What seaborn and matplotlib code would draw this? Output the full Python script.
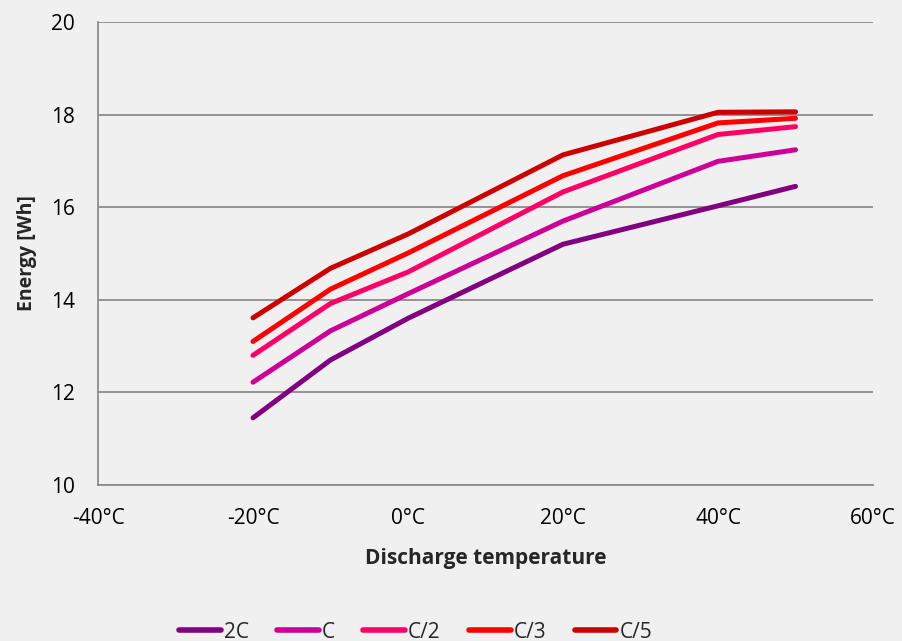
import matplotlib
matplotlib.use("Agg")
import matplotlib.pyplot as plt
import seaborn as sns
import pandas as pd

temps = [-20, -10, 0, 20, 40, 50]
series_names = ["2C", "C", "C/2", "C/3", "C/5"]
e_2C = [11.45, 12.70, 13.60, 15.20, 16.03, 16.45]
e_C = [12.22, 13.33, 14.13, 15.70, 16.99, 17.24]
e_C2 = [12.80, 13.92, 14.60, 16.33, 17.57, 17.74]
e_C3 = [13.10, 14.23, 15.01, 16.68, 17.82, 17.92]
e_C5 = [13.61, 14.68, 15.42, 17.13, 18.05, 18.06]
colors = ["#800080", "#CC0099", "#FF0066", "#FF0000", "#CC0000"]
x_ticks = [-40, -20, 0, 20, 40, 60]
x_labels = ["-40°C", "-20°C", "0°C", "20°C", "40°C", "60°C"]
y_ticks = [10, 12, 14, 16, 18, 20]

rows = []
for name, vals in zip(series_names, [e_2C, e_C, e_C2, e_C3, e_C5]):
    for t, v in zip(temps, vals):
        rows.append({"temp": t, "energy": v, "series": name})
df = pd.DataFrame(rows)

sns.set_style("white")
plt.rcParams["font.family"] = ["Open Sans", "DejaVu Sans"]

fig = plt.figure(figsize=(9.03, 6.41), dpi=100, facecolor="#F0F0F0")
ax = fig.add_axes([98 / 903, 1 - 485 / 641, 775 / 903, 463 / 641])
ax.set_facecolor("#F0F0F0")

sns.lineplot(data=df, x="temp", y="energy", hue="series", hue_order=series_names,
             palette=colors, linewidth=3.6, ax=ax, legend=True,
             solid_capstyle="round")

ax.set_xlim(-40, 60)
ax.set_ylim(10, 20)
ax.set_xticks(x_ticks)
ax.set_xticklabels(x_labels)
ax.set_yticks(y_ticks)
ax.grid(axis="y", color="#8C8C8C", linewidth=1.3)
ax.set_axisbelow(True)
for s in ["top", "right"]:
    ax.spines[s].set_visible(False)
for s in ["left", "bottom"]:
    ax.spines[s].set_color("#8C8C8C")
    ax.spines[s].set_linewidth(1.3)
ax.tick_params(axis="both", direction="out", length=5.5, color="#8C8C8C", width=1.3,
               labelsize=15, labelcolor="black")
ax.tick_params(axis="y", pad=11)
ax.tick_params(axis="x", pad=11)
ax.set_xlabel("Discharge temperature", fontsize=15, fontweight="bold", labelpad=14)
ax.set_ylabel("Energy [Wh]", fontsize=14, fontweight="bold", labelpad=10)

handles, labels = ax.get_legend_handles_labels()
for h in handles:
    h.set_linewidth(4)
    h.set_solid_capstyle("round")
ax.legend(handles, labels, loc="center", bbox_to_anchor=(0.41, -0.318), ncol=5,
          frameon=False, fontsize=15, handlelength=2.0, handletextpad=0.15,
          columnspacing=1.35)

fig.savefig("out.png", dpi=100, facecolor="#F0F0F0")
